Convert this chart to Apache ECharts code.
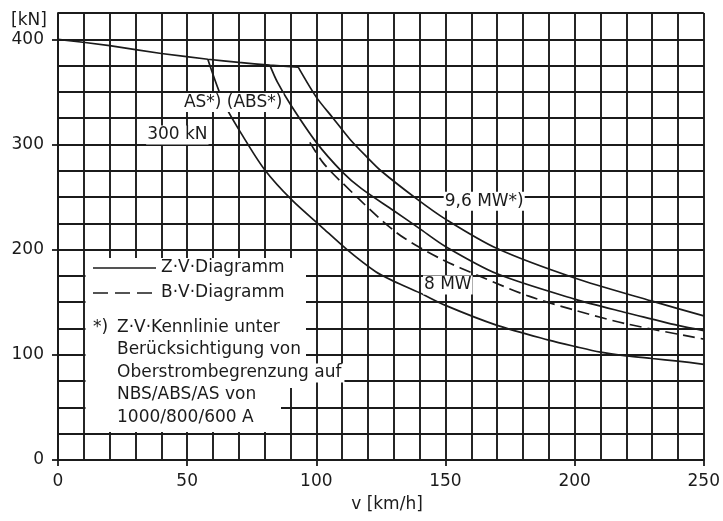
<!DOCTYPE html>
<html><head><meta charset="utf-8">
<script src="https://cdn.jsdelivr.net/npm/echarts@6/dist/echarts.min.js"></script>
<style>html,body{margin:0;padding:0;background:#fff}#c{width:723px;height:521px}</style>
</head><body><div id="c"></div>
<script>
// ---- data ----
const xTicks = [0, 50, 100, 150, 200, 250];
const yTicks = [0, 100, 200, 300, 400];
const xName = 'v [km/h]';
const yName = '[kN]';
// common top branch (starting tractive effort)
const topLine = [[0,400],[20,394],[40,386.5],[58,381],[70,378],[82,375.5],[93,373.5]];
// Z-V curves (solid)
const curveA = [[58,381],[64.3,339],[71.8,307],[80,276],[90.6,247],[101.9,222],[111.9,200],[123,179],[130,170],[140,159],[150,147],[170,128],[190,114],[200,108],[210,102.5],[220,99],[230,96.5],[240,94],[250,91]];
const curveB = [[82,375.5],[85,359],[90,338],[100,302],[110,274],[117.5,258],[130,237],[140,220],[150,203],[170,177],[200,153],[220,140],[230,134],[240,128],[250,123]];
const curveC = [[93,373.5],[100,345],[106.5,325],[113,305],[120,287],[125,275],[139,248],[150,229],[170,201],[200,173],[230,151],[250,137]];
// B-V curve (dashed)
const curveBV = [[97.5,302],[102.5,283],[109,266],[130.6,217],[147.6,192],[164,174],[182,156],[200,142.5],[220,129.5],[250,115]];
// in-chart labels
const curveLabels = ['AS*) (ABS*)', '300 kN', '9,6 MW*)', '8 MW'];
const legendTexts = ['Z·V·Diagramm', 'B·V·Diagramm', '*)', 'Z·V·Kennlinie unter', 'Berücksichtigung von', 'Oberstrombegrenzung auf', 'NBS/ABS/AS von', '1000/800/600 A'];

// ---- chart ----
const FONT = 'DejaVu Sans';
const INK = '#1b1b1b';
const chart = echarts.init(document.getElementById('c'), null, {renderer: 'canvas'});
const gridLine = {show: true, lineStyle: {color: INK, width: 1.9}};
function curve(data, dashed, extra) {
  return Object.assign({
    type: 'line', data: data, xAxisIndex: 0, yAxisIndex: 0,
    showSymbol: false, symbol: 'none', smooth: 0.3, silent: true,
    lineStyle: {color: INK, width: 1.7, type: dashed ? [12, 6] : 'solid'}, z: 3
  }, extra || {});
}
const labelStyle = {show: true, position: 'inside', formatter: '{b}', fontFamily: FONT, fontSize: 17,
  color: INK, backgroundColor: '#fff', padding: [1, 1]};
const txt = (x, y, t, align, bg) => ({type: 'text', x: x, y: y, z: 20,
  style: Object.assign({text: t, fontFamily: FONT, fontSize: 17, fill: INK, align: align || 'left', verticalAlign: 'middle'},
    bg ? {backgroundColor: '#fff', padding: [1, 3]} : {})});

chart.setOption({
  backgroundColor: '#fff',
  animation: false,
  grid: {left: 58, right: 18, top: 13, bottom: 61},
  xAxis: [
    {type: 'value', min: 0, max: 250, interval: 10, axisLine: {show: false}, axisTick: {show: false},
     axisLabel: {show: false}, splitLine: gridLine},
    {type: 'value', min: 0, max: 250, interval: 50, position: 'bottom',
     axisLine: {show: true, onZero: false, lineStyle: {color: INK, width: 1.9}},
     axisTick: {show: true, length: 6, customValues: xTicks, lineStyle: {color: INK, width: 1.8}},
     axisLabel: {customValues: xTicks, margin: 13, fontFamily: FONT, fontSize: 17, color: INK},
     splitLine: {show: false}}
  ],
  yAxis: [
    {type: 'value', min: 0, max: 425, interval: 25, axisLine: {show: false}, axisTick: {show: false},
     axisLabel: {show: false}, splitLine: gridLine},
    {type: 'value', min: 0, max: 425, interval: 100, position: 'left',
     axisLine: {show: true, onZero: false, lineStyle: {color: INK, width: 1.9}},
     axisTick: {show: true, length: 6, customValues: yTicks, lineStyle: {color: INK, width: 1.8}},
     axisLabel: {customValues: yTicks, margin: 14, fontFamily: FONT, fontSize: 17, color: INK,
       formatter: v => (yTicks.indexOf(v) >= 0 ? String(v) : '')},
     splitLine: {show: false}}
  ],
  series: [
    curve(topLine, false, {smooth: 0.2, markPoint: {
      symbol: 'rect', symbolSize: 1, itemStyle: {color: 'rgba(0,0,0,0)'}, label: labelStyle, silent: true,
      data: [
        {name: curveLabels[0], coord: [67.8, 340]},
        {name: curveLabels[1], coord: [46.2, 309]},
        {name: curveLabels[2], coord: [165, 246]},
        {name: curveLabels[3], coord: [150.9, 166.4]}
      ]}}),
    curve(curveA, false),
    curve(curveB, false),
    curve(curveC, false),
    curve(curveBV, true)
  ],
  graphic: [
    {type: 'polygon', z: 10, shape: {points: [[85.5,258],[306,258],[306,388],[281,388],[281,432],[85.5,432]]},
     style: {fill: '#fff'}},
    {type: 'line', z: 20, shape: {x1: 93, y1: 268, x2: 156, y2: 268}, style: {stroke: INK, lineWidth: 1.7}},
    {type: 'line', z: 20, shape: {x1: 93, y1: 293, x2: 158, y2: 293}, style: {stroke: INK, lineWidth: 1.7, lineDash: [15, 7]}},
    txt(161, 268, legendTexts[0]),
    txt(161, 293, legendTexts[1]),
    txt(93, 328, legendTexts[2]),
    txt(117, 328, legendTexts[3]),
    txt(117, 350, legendTexts[4]),
    txt(114, 373, legendTexts[5], 'left', true),
    txt(117, 395, legendTexts[6]),
    txt(117, 418, legendTexts[7]),
    txt(29, 21, yName, 'center'),
    txt(387, 505, xName, 'center')
  ]
});
</script>
</body></html>
